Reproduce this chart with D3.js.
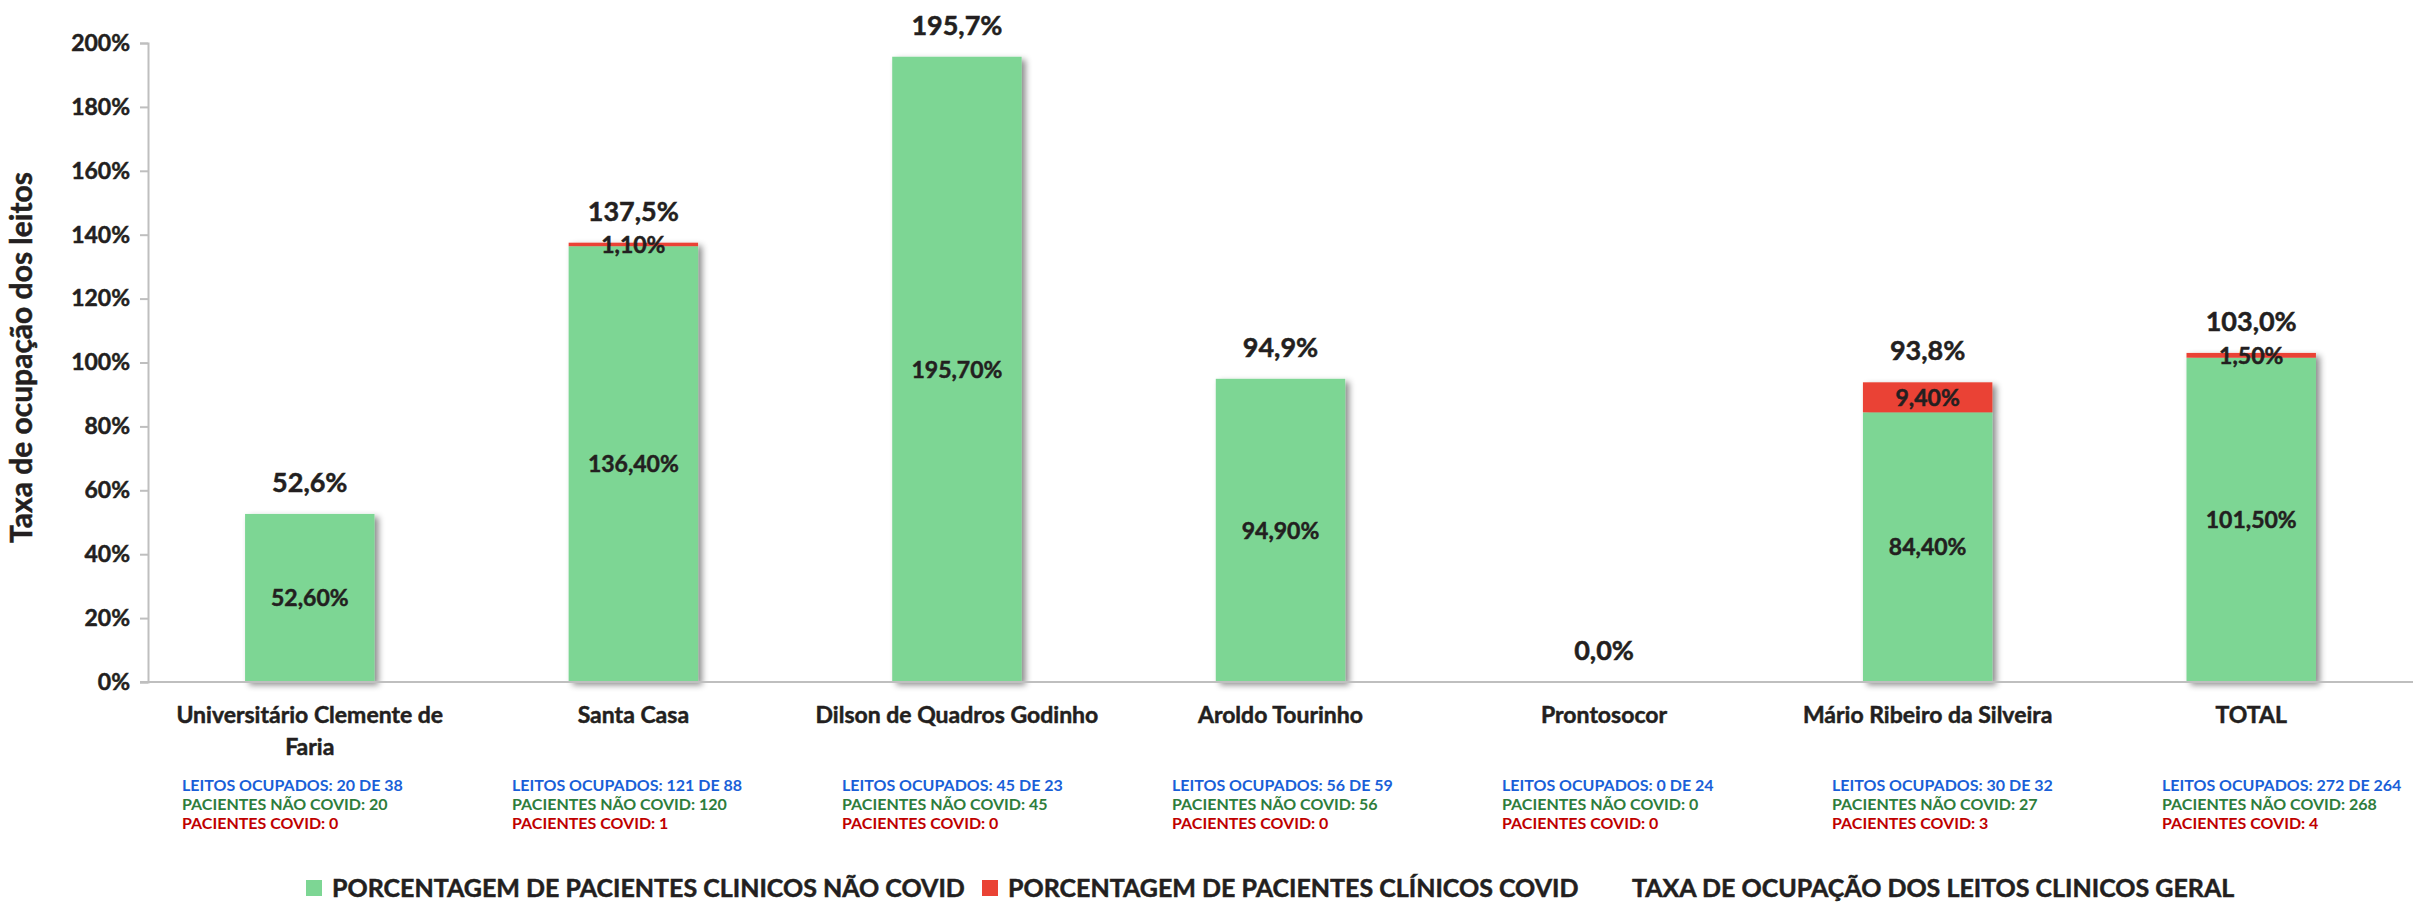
<!DOCTYPE html>
<html>
<head>
<meta charset="utf-8">
<script src="https://cdn.jsdelivr.net/npm/d3@7"></script>
<style>
  html, body { margin: 0; padding: 0; background: #fff; }
  svg text { font-family: Lato, "Open Sans", sans-serif; font-weight: bold; }
  .heavy { stroke: #231f20; stroke-width: 0.5px; }
</style>
</head>
<body>
<div id="chart"></div>
<script>
// Hospitals (categories)
var categories = ["Universitário Clemente de Faria", "Santa Casa", "Dilson de Quadros Godinho",
    "Aroldo Tourinho", "Prontosocor", "Mário Ribeiro da Silveira", "TOTAL"];

// Series values, in percent
var naoCovid = [52.6, 136.4, 195.7, 94.9, 0, 84.4, 101.5];
var covid = [0, 1.1, 0, 0, 0, 9.4, 1.5];
var geral = [52.6, 137.5, 195.7, 94.9, 0, 93.8, 103.0];

// Notes under each hospital
var leitosOcupados = [20, 121, 45, 56, 0, 30, 272];
var leitosTotal = [38, 88, 23, 59, 24, 32, 264];
var pacientesNaoCovid = [20, 120, 45, 56, 0, 27, 268];
var pacientesCovid = [0, 1, 0, 0, 0, 3, 4];

var yTicks = [0, 20, 40, 60, 80, 100, 120, 140, 160, 180, 200];

var seriesNames = ["PORCENTAGEM DE PACIENTES CLINICOS NÃO COVID",
    "PORCENTAGEM DE PACIENTES CLÍNICOS COVID",
    "TAXA DE OCUPAÇÃO DOS LEITOS CLINICOS GERAL"];

var width = 2418;
var height = 906;
var margin = { top: 43, right: 5, bottom: 224, left: 148 };

var green = "#7dd694";
var red = "#ea4335";
var dark = "#231f20";

var ptBR = d3.formatLocale({ decimal: ",", thousands: ".", grouping: [3], currency: ["R$", ""] });
var fmt1 = ptBR.format(".1f");
var fmt2 = ptBR.format(".2f");

var svg = d3.select("#chart").append("svg")
    .attr("width", width)
    .attr("height", height);

// soft drop shadow like the original bars
var defs = svg.append("defs");
defs.append("filter")
    .attr("id", "shadow")
    .attr("x", "-20%").attr("y", "-20%")
    .attr("width", "140%").attr("height", "140%")
    .append("feDropShadow")
    .attr("dx", 4).attr("dy", 3)
    .attr("stdDeviation", 3)
    .attr("flood-color", "#000")
    .attr("flood-opacity", 0.45);

var x = d3.scaleBand()
    .domain(categories)
    .range([margin.left, width - margin.right])
    .paddingInner(0.6)
    .paddingOuter(0.3);

var y = d3.scaleLinear()
    .domain([0, 200])
    .range([height - margin.bottom, margin.top]);

// Y axis
var yAxis = svg.append("g")
    .attr("transform", "translate(" + margin.left + ",0)")
    .call(d3.axisLeft(y).tickValues(yTicks).tickSize(8).tickPadding(10)
        .tickFormat(function(d) { return d + "%"; }));
yAxis.selectAll("path, line").attr("stroke", "#bfbfbf").attr("stroke-width", 2);
yAxis.selectAll("text")
    .attr("class", "heavy")
    .attr("fill", dark)
    .style("font-size", "23px");

svg.append("text")
    .attr("class", "heavy")
    .attr("transform", "translate(32," + (y(100) - 5) + ") rotate(-90)")
    .attr("text-anchor", "middle")
    .attr("fill", dark)
    .style("font-size", "30px")
    .text("Taxa de ocupação dos leitos");

// stacked bars
var rows = categories.map(function(c, i) {
    return { cat: c, naoCovid: naoCovid[i], covid: covid[i], geral: geral[i] };
});
var stack = d3.stack().keys(["naoCovid", "covid"]);
var layers = stack(rows);
var colors = { naoCovid: green, covid: red };

var barG = svg.append("g").attr("filter", "url(#shadow)");
layers.forEach(function(layer) {
    barG.selectAll(null)
        .data(layer.filter(function(d) { return d[1] - d[0] > 0; }))
        .enter().append("rect")
        .attr("x", function(d) { return x(d.data.cat); })
        .attr("y", function(d) { return y(d[1]); })
        .attr("width", x.bandwidth())
        .attr("height", function(d) { return y(d[0]) - y(d[1]); })
        .attr("fill", colors[layer.key]);
});

// X axis line
svg.append("line")
    .attr("x1", margin.left - 8)
    .attr("x2", width - margin.right)
    .attr("y1", y(0)).attr("y2", y(0))
    .attr("stroke", "#bfbfbf")
    .attr("stroke-width", 2);

// segment labels
layers.forEach(function(layer) {
    svg.selectAll(null)
        .data(layer.filter(function(d) { return d[1] - d[0] > 0; }))
        .enter().append("text")
        .attr("class", "heavy")
        .attr("x", function(d) { return x(d.data.cat) + x.bandwidth() / 2; })
        .attr("y", function(d) { return y((d[0] + d[1]) / 2); })
        .attr("dy", "0.36em")
        .attr("text-anchor", "middle")
        .attr("fill", dark)
        .style("font-size", "23px")
        .text(function(d) { return fmt2(d[1] - d[0]) + "%"; });
});

// total labels
svg.selectAll(null)
    .data(rows)
    .enter().append("text")
    .attr("class", "heavy")
    .attr("x", function(d) { return x(d.cat) + x.bandwidth() / 2; })
    .attr("y", function(d) { return y(d.geral) - 22; })
    .attr("text-anchor", "middle")
    .attr("fill", dark)
    .style("font-size", "27px")
    .text(function(d) { return fmt1(d.geral) + "%"; });

// category labels, wrapped
svg.selectAll(null)
    .data(categories)
    .enter().append("text")
    .attr("class", "heavy")
    .attr("x", function(d) { return x(d) + x.bandwidth() / 2; })
    .attr("y", y(0) + 41)
    .attr("text-anchor", "middle")
    .attr("fill", dark)
    .style("font-size", "23px")
    .each(function(d) { wrap(d3.select(this), d, 300, 32); });

function wrap(text, str, maxW, lineH) {
    var words = str.split(" ");
    var line = [];
    var tspan = text.append("tspan").attr("x", text.attr("x")).attr("dy", 0);
    words.forEach(function(w) {
        line.push(w);
        tspan.text(line.join(" "));
        if (tspan.node().getComputedTextLength() > maxW && line.length > 1) {
            line.pop();
            tspan.text(line.join(" "));
            line = [w];
            tspan = text.append("tspan").attr("x", text.attr("x")).attr("dy", lineH).text(w);
        }
    });
}

// notes below each hospital (text boxes placed a bit wider than the bands)
var noteX = d3.scalePoint().domain(categories).range([182, 2162]);
var notes = svg.selectAll(null)
    .data(categories)
    .enter().append("text")
    .attr("x", function(d) { return noteX(d); })
    .attr("y", y(0) + 109)
    .style("font-size", "16px");

notes.append("tspan")
    .attr("fill", "#1a5fd8")
    .text(function(d, i) { return "LEITOS OCUPADOS: " + leitosOcupados[i] + " DE " + leitosTotal[i]; });
notes.append("tspan")
    .attr("x", function(d) { return noteX(d); })
    .attr("dy", 19)
    .attr("fill", "#2e7d3c")
    .text(function(d, i) { return "PACIENTES NÃO COVID: " + pacientesNaoCovid[i]; });
notes.append("tspan")
    .attr("x", function(d) { return noteX(d); })
    .attr("dy", 19)
    .attr("fill", "#c00000")
    .text(function(d, i) { return "PACIENTES COVID: " + pacientesCovid[i]; });

// legend
var legendItems = [
    { name: seriesNames[0], color: green, x: 306 },
    { name: seriesNames[1], color: red, x: 982 },
    { name: seriesNames[2], color: null, x: 1606 }
];
var legend = svg.append("g").attr("transform", "translate(0," + 897 + ")");
legendItems.forEach(function(it) {
    if (it.color) {
        legend.append("rect")
            .attr("x", it.x).attr("y", -17)
            .attr("width", 16).attr("height", 16)
            .attr("fill", it.color);
    }
    legend.append("text")
        .attr("class", "heavy")
        .attr("x", it.x + 26)
        .attr("y", 0)
        .attr("fill", dark)
        .style("font-size", "25px")
        .text(it.name);
});
</script>
</body>
</html>
